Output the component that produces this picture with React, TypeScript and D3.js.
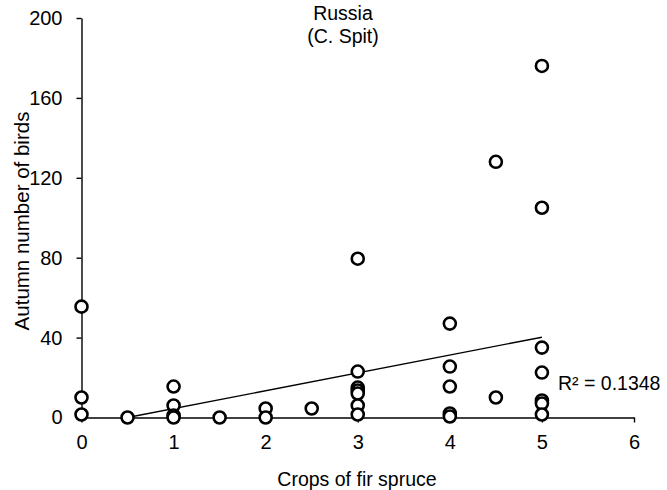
import React, { useEffect, useRef } from "react";
import * as d3 from "d3";

// crop score vs autumn bird count
const cropScores = [
  0, 0, 0,
  0.5,
  1, 1, 1, 1,
  1.5,
  2, 2,
  2.5,
  3, 3, 3, 3, 3, 3, 3,
  4, 4, 4, 4, 4,
  4.5, 4.5,
  5, 5, 5, 5, 5, 5, 5,
];
const birdCounts = [
  55.5, 10, 1.5,
  0,
  15.5, 6, 1, 0,
  0,
  4.5, 0,
  4.5,
  79.5, 23, 15, 13.5, 12, 6, 1.5,
  47, 25.5, 15.5, 2, 0.5,
  128, 10,
  176, 105, 35, 22.5, 8.5, 7, 1.5,
];

// linear trendline endpoints (Excel clips it at y = 0)
const trendX = [0.5, 5];
const trendY = [0, 40.2];

const xTicks = [0, 1, 2, 3, 4, 5, 6];
const yTicks = [0, 40, 80, 120, 160, 200];

const titleLines = ["Russia", "(C. Spit)"];
const rSquared = "R² = 0.1348";

export default function App() {
  const ref = useRef<SVGSVGElement>(null);

  useEffect(() => {
    const svg = d3.select(ref.current);
    svg.selectAll("*").remove();

    const font = "'Liberation Sans', Arial, sans-serif";
    const fontSize = 19.5;

    const x = d3.scaleLinear().domain([0, 6]).range([81.5, 634]);
    const y = d3.scaleLinear().domain([0, 200]).range([417.5, 18]);

    const xAxis = svg
      .append("g")
      .attr("transform", `translate(0,${y(0)})`)
      .call(
        d3
          .axisBottom(x)
          .tickValues(xTicks)
          .tickFormat(d3.format("d"))
          .tickSize(5)
          .tickSizeOuter(0)
          .tickPadding(12)
      );

    const yAxis = svg
      .append("g")
      .attr("transform", `translate(${x(0)},0)`)
      .call(
        d3
          .axisLeft(y)
          .tickValues(yTicks)
          .tickFormat(d3.format("d"))
          .tickSize(5)
          .tickSizeOuter(0)
          .tickPadding(14)
      );

    [xAxis, yAxis].forEach((ax) => {
      ax.selectAll("path, line").attr("stroke", "#000").attr("stroke-width", 1.4);
      ax.selectAll("text")
        .attr("font-family", font)
        .attr("font-size", 20)
        .attr("fill", "#000");
    });

    // trendline
    svg
      .append("line")
      .attr("x1", x(trendX[0]))
      .attr("y1", y(trendY[0]))
      .attr("x2", x(trendX[1]))
      .attr("y2", y(trendY[1]))
      .attr("stroke", "#000")
      .attr("stroke-width", 1.4);

    svg
      .selectAll(".pt")
      .data(cropScores.map((c, i) => ({ c, b: birdCounts[i] })))
      .enter()
      .append("circle")
      .attr("class", "pt")
      .attr("cx", (d) => x(d.c))
      .attr("cy", (d) => y(d.b))
      .attr("r", 6)
      .attr("fill", "#fff")
      .attr("stroke", "#000")
      .attr("stroke-width", 2.6);

    svg
      .append("text")
      .attr("x", 558)
      .attr("y", 390)
      .attr("font-family", font)
      .attr("font-size", fontSize)
      .text(rSquared);

    svg
      .selectAll(".title")
      .data(titleLines)
      .enter()
      .append("text")
      .attr("class", "title")
      .attr("x", 343)
      .attr("y", 20)
      .attr("dy", (d, i) => i * 23)
      .attr("text-anchor", "middle")
      .attr("font-family", font)
      .attr("font-size", fontSize)
      .text((d) => d);

    svg
      .append("text")
      .attr("x", 357)
      .attr("y", 486)
      .attr("text-anchor", "middle")
      .attr("font-family", font)
      .attr("font-size", fontSize)
      .text("Crops of fir spruce");

    svg
      .append("text")
      .attr("transform", "rotate(-90)")
      .attr("x", -221)
      .attr("y", 29)
      .attr("text-anchor", "middle")
      .attr("font-family", font)
      .attr("font-size", 20.5)
      .text("Autumn number of birds");
  }, []);

  return (
    <svg
      ref={ref}
      width={667}
      height={490}
      style={{ position: "absolute", left: 0, top: 0, background: "#fff" }}
    />
  );
}
